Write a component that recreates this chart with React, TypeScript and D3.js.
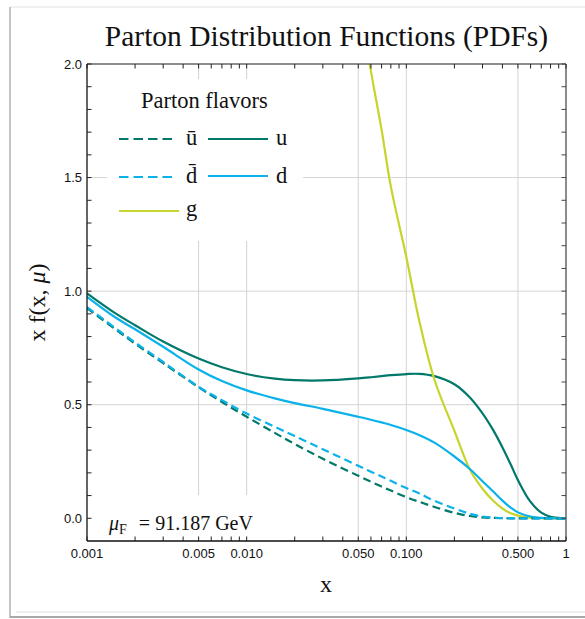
import React from "react";
import * as d3 from "d3";

// Momentum fractions at which the distributions are tabulated
const xGrid = [
  0.001, 0.0015, 0.002, 0.003, 0.005, 0.007, 0.01, 0.015, 0.02, 0.03, 0.05,
  0.06, 0.07, 0.08, 0.1, 0.12, 0.15, 0.2, 0.25, 0.3, 0.35, 0.4, 0.45, 0.5,
  0.6, 0.7, 0.8, 0.9, 1.0,
];

// x f(x, mu) for each parton flavour at mu_F = 91.187 GeV
const uValues = [
  0.99, 0.903, 0.85, 0.778, 0.703, 0.665, 0.635, 0.615, 0.608, 0.607, 0.616,
  0.621, 0.626, 0.63, 0.635, 0.636, 0.626, 0.59, 0.532, 0.462, 0.388, 0.312,
  0.238, 0.168, 0.072, 0.025, 0.007, 0.0015, 0,
];
const dValues = [
  0.975, 0.885, 0.832, 0.755, 0.655, 0.604, 0.563, 0.528, 0.507, 0.482, 0.447,
  0.434, 0.422, 0.411, 0.389, 0.367, 0.333, 0.272, 0.217, 0.163, 0.118, 0.078,
  0.047, 0.026, 0.008, 0.002, 0.0005, 0, 0,
];
const ubarValues = [
  0.925, 0.833, 0.769, 0.683, 0.577, 0.512, 0.447, 0.376, 0.327, 0.262, 0.187,
  0.161, 0.14, 0.122, 0.093, 0.073, 0.05, 0.024, 0.01, 0.004, 0.0015, 0.0005,
  0, 0, 0, 0, 0, 0, 0,
];
const dbarValues = [
  0.93, 0.838, 0.774, 0.688, 0.579, 0.52, 0.461, 0.403, 0.362, 0.304, 0.231,
  0.205, 0.184, 0.165, 0.133, 0.11, 0.077, 0.043, 0.02, 0.008, 0.003, 0.001,
  0, 0, 0, 0, 0, 0, 0,
];
const gValues: (number | null)[] = [
  null, null, null, null, null, null, null, null, null, null, 2.32,
  1.97, 1.71, 1.46, 1.15, 0.875, 0.61, 0.385, 0.215, 0.13, 0.077, 0.043,
  0.022, 0.012, 0.003, 0.001, 0, 0, 0,
];

const xTickValues = [0.001, 0.005, 0.01, 0.05, 0.1, 0.5, 1];
const xTickLabels = ["0.001", "0.005", "0.010", "0.050", "0.100", "0.500", "1"];
const yTickValues = [0, 0.5, 1, 1.5, 2];
const yTickLabels = ["0.0", "0.5", "1.0", "1.5", "2.0"];
const xGridValues = [0.005, 0.01, 0.05, 0.1, 0.5];
const yGridValues = [0.5, 1.0, 1.5];

const TEAL = "#00796a";
const CYAN = "#0bb2ea";
const LIME = "#c6d52c";
const SERIF = "'Liberation Serif', 'Times New Roman', serif";
const SANS = "'Liberation Sans', Arial, sans-serif";

const series = [
  { key: "u", values: uValues, color: TEAL, dash: undefined },
  { key: "g", values: gValues, color: LIME, dash: undefined },
  { key: "d", values: dValues, color: CYAN, dash: undefined },
  { key: "ubar", values: ubarValues, color: TEAL, dash: "8,4.5" },
  { key: "dbar", values: dbarValues, color: CYAN, dash: "8,4.5" },
];

const W = 585;
const H = 619;
const plot = { left: 87, right: 566, top: 64, bottom: 541 };

export default function App() {
  const x = d3.scaleLog().domain([0.001, 1]).range([plot.left, plot.right]);
  const y = d3.scaleLinear().domain([-0.1, 2.0]).range([plot.bottom, plot.top]);

  const line = d3
    .line<[number, number | null]>()
    .defined((d) => d[1] != null)
    .x((d) => x(d[0]))
    .y((d) => y(d[1] as number))
    .curve(d3.curveCatmullRom.alpha(0.5));

  // minor ticks on the log axis: 1..9 per decade
  const xMinor: number[] = [];
  for (let e = -3; e < 0; e++) {
    for (let m = 1; m < 10; m++) xMinor.push(m * Math.pow(10, e));
  }
  xMinor.push(1);
  const yMinor = d3.range(0, 21).map((i) => i / 10);
  const tick = 4.5;

  return (
    <svg
      width={W}
      height={H}
      style={{ position: "absolute", left: 0, top: 0, display: "block", background: "#fff" }}
    >
      <defs>
        <clipPath id="plot-clip">
          <rect x={plot.left} y={plot.top} width={plot.right - plot.left} height={plot.bottom - plot.top} />
        </clipPath>
      </defs>

      {/* card frame */}
      <line x1={10} x2={585} y1={7} y2={7} stroke="#e2e2e2" strokeWidth={1} />
      <line x1={10} x2={10} y1={7} y2={618} stroke="#c4c4c4" strokeWidth={2} />
      <line x1={10} x2={585} y1={617} y2={617} stroke="#a8a8a8" strokeWidth={2} />
      <line x1={16} x2={585} y1={612} y2={612} stroke="#dedede" strokeWidth={1} />

      {/* title */}
      <text x={326.5} y={46} textAnchor="middle" fontFamily={SERIF} fontSize={29.5} fill="#111">
        Parton Distribution Functions (PDFs)
      </text>

      {/* grid */}
      {xGridValues.map((v) => (
        <line key={"gx" + v} x1={x(v)} x2={x(v)} y1={plot.top} y2={plot.bottom} stroke="#d4d4d4" strokeWidth={1} />
      ))}
      {yGridValues.map((v) => (
        <line key={"gy" + v} x1={plot.left} x2={plot.right} y1={y(v)} y2={y(v)} stroke="#d4d4d4" strokeWidth={1} />
      ))}

      {/* white panels behind the legend and the scale label */}
      <rect x={107} y={79} width={196} height={162} fill="#fff" />
      <rect x={100} y={495} width={165} height={45} fill="#fff" />

      {/* curves */}
      <g clipPath="url(#plot-clip)">
        {series.map((s) => (
          <path
            key={s.key}
            d={line(xGrid.map((xv, i) => [xv, s.values[i]] as [number, number | null])) || ""}
            fill="none"
            stroke={s.color}
            strokeWidth={2.2}
            strokeDasharray={s.dash}
          />
        ))}
      </g>

      {/* frame */}
      <line x1={plot.left} x2={plot.right} y1={plot.top} y2={plot.top} stroke="#666" strokeWidth={1.5} />
      <line x1={plot.right} x2={plot.right} y1={plot.top} y2={plot.bottom} stroke="#666" strokeWidth={1.5} />
      <line x1={plot.left} x2={plot.left} y1={plot.top} y2={plot.bottom} stroke="#111" strokeWidth={1.3} />
      <line x1={plot.left} x2={plot.right} y1={plot.bottom} y2={plot.bottom} stroke="#111" strokeWidth={1.3} />

      {/* ticks */}
      {xMinor.map((v, i) => (
        <g key={"tx" + i}>
          <line x1={x(v)} x2={x(v)} y1={plot.bottom} y2={plot.bottom - tick} stroke="#222" strokeWidth={1} />
          <line x1={x(v)} x2={x(v)} y1={plot.top} y2={plot.top + tick} stroke="#222" strokeWidth={1} />
        </g>
      ))}
      {yMinor.map((v, i) => (
        <g key={"ty" + i}>
          <line x1={plot.left} x2={plot.left + tick} y1={y(v)} y2={y(v)} stroke="#222" strokeWidth={1} />
          <line x1={plot.right} x2={plot.right - tick} y1={y(v)} y2={y(v)} stroke="#444" strokeWidth={1} />
        </g>
      ))}

      {/* tick labels */}
      {xTickValues.map((v, i) => (
        <text key={"lx" + v} x={x(v)} y={558} textAnchor="middle" fontFamily={SANS} fontSize={13} fill="#111">
          {xTickLabels[i]}
        </text>
      ))}
      {yTickValues.map((v, i) => (
        <text key={"ly" + v} x={82} y={y(v)} dy="0.35em" textAnchor="end" fontFamily={SANS} fontSize={13} fill="#111">
          {yTickLabels[i]}
        </text>
      ))}

      {/* axis titles */}
      <text x={326} y={592} textAnchor="middle" fontFamily={SERIF} fontSize={24} fill="#111">
        x
      </text>
      <text
        transform={`translate(45, ${(plot.top + plot.bottom) / 2}) rotate(-90)`}
        textAnchor="middle"
        fontFamily={SERIF}
        fontSize={24}
        fill="#111"
      >
        x f(x,{" "}
        <tspan fontStyle="italic">μ</tspan>)
      </text>

      {/* legend */}
      <text x={141} y={108} fontFamily={SERIF} fontSize={22.5} fill="#111">
        Parton flavors
      </text>
      <line x1={119} x2={177} y1={139} y2={139} stroke={TEAL} strokeWidth={2.2} strokeDasharray="9.5,5" />
      <text x={186} y={145} fontFamily={SERIF} fontSize={22.5} fill="#111">ū</text>
      <line x1={208} x2={268} y1={139} y2={139} stroke={TEAL} strokeWidth={2.2} />
      <text x={276} y={145} fontFamily={SERIF} fontSize={22.5} fill="#111">u</text>

      <line x1={119} x2={177} y1={177} y2={177} stroke={CYAN} strokeWidth={2.2} strokeDasharray="9.5,5" />
      <text x={186} y={183} fontFamily={SERIF} fontSize={22.5} fill="#111">d̄</text>
      <line x1={208} x2={268} y1={176} y2={176} stroke={CYAN} strokeWidth={2.2} />
      <text x={276} y={183} fontFamily={SERIF} fontSize={22.5} fill="#111">d</text>

      <line x1={119} x2={179} y1={211} y2={211} stroke={LIME} strokeWidth={2.2} />
      <text x={186} y={216} fontFamily={SERIF} fontSize={22.5} fill="#111">g</text>

      {/* factorisation scale */}
      <text x={109} y={530} fontFamily={SERIF} fontSize={20} fill="#111">
        <tspan fontStyle="italic">μ</tspan>
        <tspan fontSize={14} dy={4}>F</tspan>
        <tspan dy={-4} dx={12}>=</tspan>
        <tspan dx={5}>91.187 GeV</tspan>
      </text>
    </svg>
  );
}
